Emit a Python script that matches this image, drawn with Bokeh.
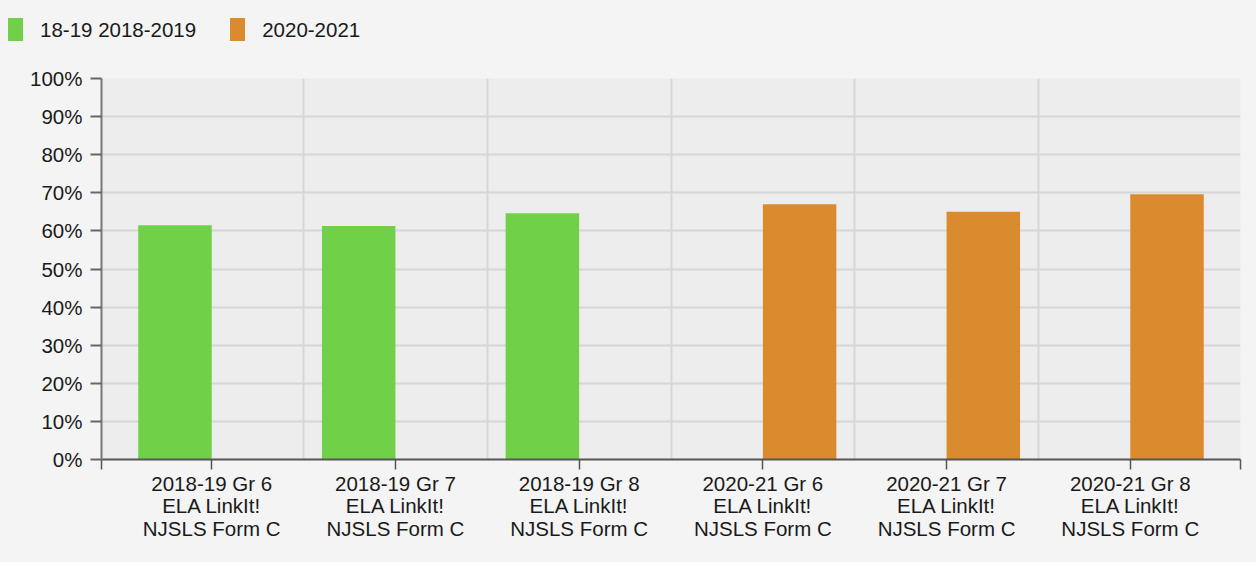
from bokeh.plotting import figure
from bokeh.layouts import column
from bokeh.models import ColumnDataSource, FixedTicker, PrintfTickFormatter, Range1d, Div
from bokeh.transform import dodge
from bokeh.embed import file_html
from bokeh.resources import INLINE

categories = [
    "2018-19 Gr 6\nELA LinkIt!\nNJSLS Form C",
    "2018-19 Gr 7\nELA LinkIt!\nNJSLS Form C",
    "2018-19 Gr 8\nELA LinkIt!\nNJSLS Form C",
    "2020-21 Gr 6\nELA LinkIt!\nNJSLS Form C",
    "2020-21 Gr 7\nELA LinkIt!\nNJSLS Form C",
    "2020-21 Gr 8\nELA LinkIt!\nNJSLS Form C",
]
series_names = ["18-19 2018-2019", "2020-2021"]
values_1819 = [61.5, 61.3, 64.6, 0, 0, 0]
values_2021 = [0, 0, 0, 67.0, 65.0, 69.6]
y_ticks = [0, 10, 20, 30, 40, 50, 60, 70, 80, 90, 100]

FONT = "Liberation Sans"
FS = "20.5px"
GREEN = "#70d048"
ORANGE = "#d98b2e"
BG = "#f4f4f4"
W = 1256
HDR_H = 60
TOTAL_H = 562

idx = list(range(len(categories)))
src = ColumnDataSource(dict(x=idx, a=values_1819, b=values_2021))

# ---- legend header (HTML) ----
items_html = ""
for i, (name, col) in enumerate(zip(series_names, [GREEN, ORANGE])):
    gap = "0" if i == 0 else "34px"
    items_html += (
        f'<span style="display:inline-flex;align-items:center;margin-left:{gap}">'
        f'<span style="display:inline-block;width:15px;height:23px;background:{col};margin-right:17px"></span>'
        f'<span>{name}</span></span>'
    )
hdr = Div(
    text=(f'<div style="box-sizing:border-box;width:{W}px;height:{HDR_H}px;padding:18px 0 0 8px;'
          f'background:{BG};font-family:\'{FONT}\';font-size:{FS};color:#1a1a1a;'
          f'display:flex;align-items:flex-start;line-height:23px">{items_html}</div>'),
    width=W, height=HDR_H, margin=0, styles={"background-color": BG},
)

# ---- main chart ----
p = figure(width=W, height=TOTAL_H - HDR_H, output_backend="svg", toolbar_location=None,
           x_range=Range1d(-0.6, len(categories) - 0.4), y_range=Range1d(0, 100),
           min_border_left=101, min_border_right=W - 1240, min_border_top=78 - HDR_H,
           min_border_bottom=TOTAL_H - 459)
p.background_fill_color = "#ededed"
p.border_fill_color = BG
p.outline_line_color = None

p.vbar(x=dodge("x", -0.2, range=p.x_range), top="a", width=0.4, source=src,
       fill_color=GREEN, line_color=None)
p.vbar(x=dodge("x", 0.2, range=p.x_range), top="b", width=0.4, source=src,
       fill_color=ORANGE, line_color=None)

# x axis
edge_lo, edge_hi = -0.6, len(categories) - 0.4
p.xaxis.ticker = FixedTicker(ticks=[edge_lo] + idx + [edge_hi])
overrides = {i: c for i, c in zip(idx, categories)}
overrides[edge_lo] = ""
overrides[edge_hi] = ""
p.xaxis.major_label_overrides = overrides
p.xaxis.major_label_text_font = FONT
p.xaxis.major_label_text_font_size = FS
p.xaxis.major_label_text_color = "#1a1a1a"
p.xaxis.major_label_text_line_height = 0.98
p.xaxis.major_label_standoff = 2
p.xaxis.major_tick_out = 10
p.xaxis.major_tick_in = 0
p.xaxis.minor_tick_line_color = None
p.xaxis.axis_line_color = "#555555"
p.xaxis.axis_line_width = 2
p.xaxis.major_tick_line_color = "#555555"
p.xaxis.major_tick_line_width = 1.5

# y axis
p.yaxis.ticker = FixedTicker(ticks=y_ticks)
p.yaxis.formatter = PrintfTickFormatter(format="%d%%")
p.yaxis.major_label_text_font = FONT
p.yaxis.major_label_text_font_size = FS
p.yaxis.major_label_text_color = "#1a1a1a"
p.yaxis.major_label_standoff = 8
p.yaxis.major_tick_out = 11
p.yaxis.major_tick_in = 0
p.yaxis.minor_tick_line_color = None
p.yaxis.axis_line_color = "#777777"
p.yaxis.axis_line_width = 2
p.yaxis.major_tick_line_color = "#666666"
p.yaxis.major_tick_line_width = 2

# grids
p.xgrid.ticker = FixedTicker(ticks=[i + 0.5 for i in idx[:-1]])
p.xgrid.grid_line_color = "#d6d6d6"
p.xgrid.grid_line_width = 2
p.ygrid.grid_line_color = "#d6d6d6"
p.ygrid.grid_line_width = 2

layout = column(hdr, p, spacing=0, styles={"background-color": BG})
open("out.html", "w").write(file_html(layout, INLINE))
